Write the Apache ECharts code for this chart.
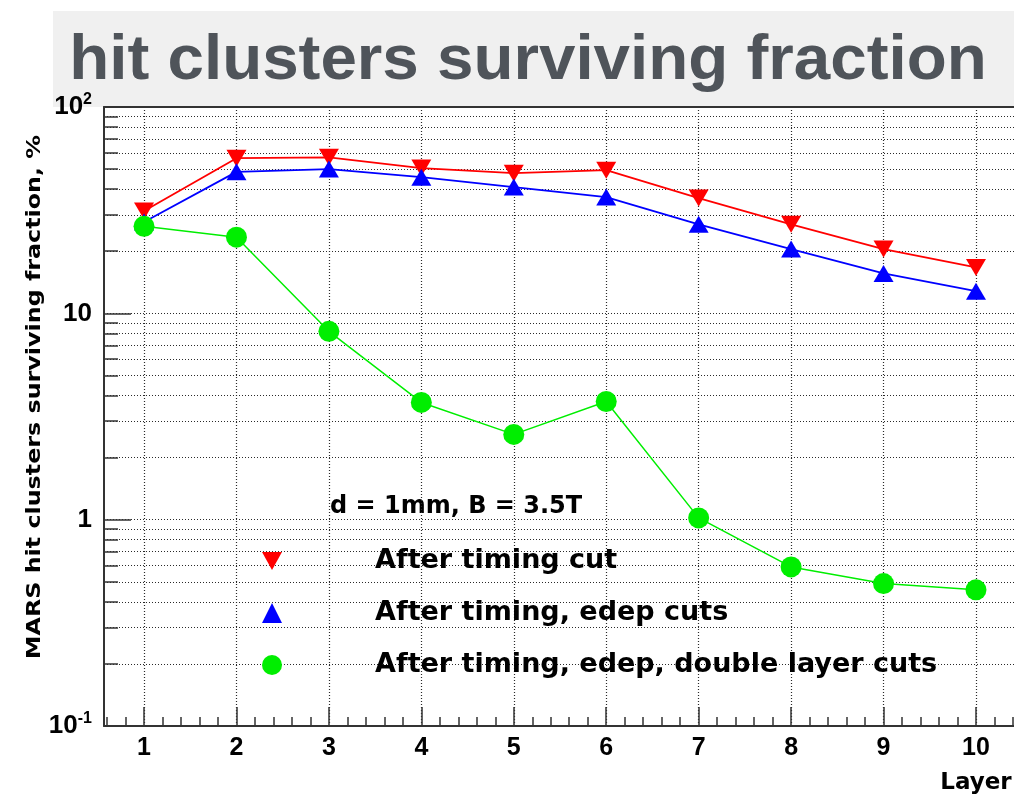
<!DOCTYPE html>
<html>
<head>
<meta charset="utf-8">
<script src="https://cdn.jsdelivr.net/npm/echarts@6/dist/echarts.min.js"></script>
<style>
  html, body { margin: 0; padding: 0; background: #ffffff; }
  #chart { width: 1014px; height: 798px; }
</style>
</head>
<body>
<div id="chart"></div>
<script>
// Layer numbers along the x axis
const layers = [1, 2, 3, 4, 5, 6, 7, 8, 9, 10];

// Surviving fraction of hit clusters, in percent, per layer
const afterTimingCut = [31.3, 56.5, 57.0, 50.6, 47.8, 49.4, 36.2, 27.0, 20.5, 16.7];
const afterTimingEdepCuts = [27.7, 48.5, 50.0, 45.7, 40.9, 36.6, 27.0, 20.5, 15.6, 12.8];
const afterDoubleLayerCuts = [26.4, 23.4, 8.18, 3.70, 2.59, 3.74, 1.02, 0.59, 0.49, 0.457];

// Series names shown in the legend
const seriesNames = [
  'After timing cut',
  'After timing, edep cuts',
  'After timing, edep, double layer cuts'
];

// Decade tick labels of the logarithmic y axis
const yTickValues = [0.1, 1, 10, 100];
const yTickLabels = ['{b|10}{s|-1}', '{b|1}', '{b|10}', '{b|10}{s|2}'];

const xMin = 0.567, xMax = 10.433;
// small ticks every 0.2 between the layer numbers
const xMinorTicks = [];
for (let k = 3; k <= 52; k++) {
  const v = Math.round(k * 2) / 10;
  if (v % 1 !== 0) xMinorTicks.push(v);
}

const axisColor = '#333333';
const dotted = { color: '#2a2a2a', width: 1.2, type: [1, 2] };

const chart = echarts.init(document.getElementById('chart'), null, { renderer: 'canvas' });

const pairs = vals => layers.map((l, i) => [l, vals[i]]);

chart.setOption({
  animation: false,
  backgroundColor: '#ffffff',
  grid: { left: 104, right: -2, top: 107, bottom: 72, containLabel: false, outerBoundsMode: 'none' },
  graphic: [
    { type: 'rect', shape: { x: 53, y: 11, width: 961, height: 96 }, style: { fill: '#f0f0f0' }, z: -10 },
    { type: 'text', x: 528, y: 62, scaleX: 1.04, style: {
        text: 'hit clusters surviving fraction',
        font: 'bold 63px "Liberation Sans", Arial, sans-serif',
        fill: '#4f545a', align: 'center', verticalAlign: 'middle' } },
    { type: 'text', x: 35, y: 397, rotation: Math.PI / 2, scaleX: 1.19, style: {
        text: 'MARS hit clusters surviving fraction, %',
        font: 'bold 20px "DejaVu Sans", sans-serif',
        fill: '#000000', align: 'center', verticalAlign: 'middle' } },
    { type: 'text', x: 976, y: 783, style: {
        text: 'Layer',
        font: 'bold 23px "DejaVu Sans", sans-serif',
        fill: '#000000', align: 'center', verticalAlign: 'middle' } },
    { type: 'text', x: 330, y: 507, style: {
        text: 'd = 1mm, B = 3.5T',
        font: 'bold 24px "DejaVu Sans", sans-serif',
        fill: '#000000', align: 'left', verticalAlign: 'middle' } }
  ],
  legend: {
    orient: 'vertical',
    left: 257,
    top: 541,
    itemWidth: 20,
    itemHeight: 20,
    itemGap: 22,
    selectedMode: false,
    textStyle: {
      fontFamily: 'DejaVu Sans', fontWeight: 'bold', fontSize: 27, color: '#000000',
      padding: [0, 0, 0, 88], lineHeight: 30
    },
    data: [
      { name: seriesNames[0], icon: 'path://M0,0L10,0L5,9Z' },
      { name: seriesNames[1], icon: 'triangle' },
      { name: seriesNames[2], icon: 'circle' }
    ]
  },
  xAxis: [
    {
      type: 'value', min: xMin, max: xMax, position: 'bottom',
      axisLine: { lineStyle: { color: axisColor, width: 2 } },
      axisTick: { inside: true, length: 19, customValues: layers, lineStyle: { color: axisColor, width: 1.5 } },
      axisLabel: {
        customValues: layers, margin: 10, color: '#000000',
        fontFamily: 'Liberation Sans', fontWeight: 'bold', fontSize: 25
      },
      splitLine: { show: true, lineStyle: dotted }
    },
    {
      type: 'value', min: xMin, max: xMax, position: 'bottom',
      axisLine: { show: false },
      axisTick: { inside: true, length: 9, customValues: xMinorTicks, lineStyle: { color: axisColor, width: 1.5 } },
      axisLabel: { show: false },
      splitLine: { show: false }
    },
    {
      type: 'value', min: xMin, max: xMax, position: 'top',
      axisLine: { lineStyle: { color: axisColor, width: 2 } },
      axisTick: { show: false },
      axisLabel: { show: false },
      splitLine: { show: false }
    }
  ],
  yAxis: {
    type: 'log', logBase: 10, min: 0.1, max: 100,
    axisLine: { lineStyle: { color: axisColor, width: 2 } },
    axisTick: { inside: true, length: 27, lineStyle: { color: axisColor, width: 1.5 } },
    minorTick: { show: true, splitNumber: 9, length: 14, lineStyle: { color: axisColor, width: 1.5 } },
    splitLine: { show: true, lineStyle: dotted },
    minorSplitLine: { show: true, lineStyle: dotted },
    axisLabel: {
      margin: 12,
      formatter: function (v) {
        const e = Math.round(Math.log10(v));
        const i = yTickValues.findIndex(t => Math.round(Math.log10(t)) === e);
        return i >= 0 ? yTickLabels[i] : '';
      },
      rich: {
        b: { fontFamily: 'Liberation Sans', fontWeight: 'bold', fontSize: 26, color: '#000000' },
        s: { fontFamily: 'Liberation Sans', fontWeight: 'bold', fontSize: 16, color: '#000000', padding: [0, 0, 14, 0] }
      }
    }
  },
  series: [
    {
      name: seriesNames[0], type: 'line', data: pairs(afterTimingCut),
      symbol: 'triangle', symbolRotate: 180, symbolSize: [20, 17],
      itemStyle: { color: '#ff0000' }, lineStyle: { color: '#ff0000', width: 1.8 }
    },
    {
      name: seriesNames[1], type: 'line', data: pairs(afterTimingEdepCuts),
      symbol: 'triangle', symbolSize: [20, 17],
      itemStyle: { color: '#0000ff' }, lineStyle: { color: '#0000ff', width: 1.8 }
    },
    {
      name: seriesNames[2], type: 'line', data: pairs(afterDoubleLayerCuts),
      symbol: 'circle', symbolSize: 21,
      itemStyle: { color: '#00ee00' }, lineStyle: { color: '#00ee00', width: 1.5 }
    }
  ]
});
</script>
</body>
</html>
